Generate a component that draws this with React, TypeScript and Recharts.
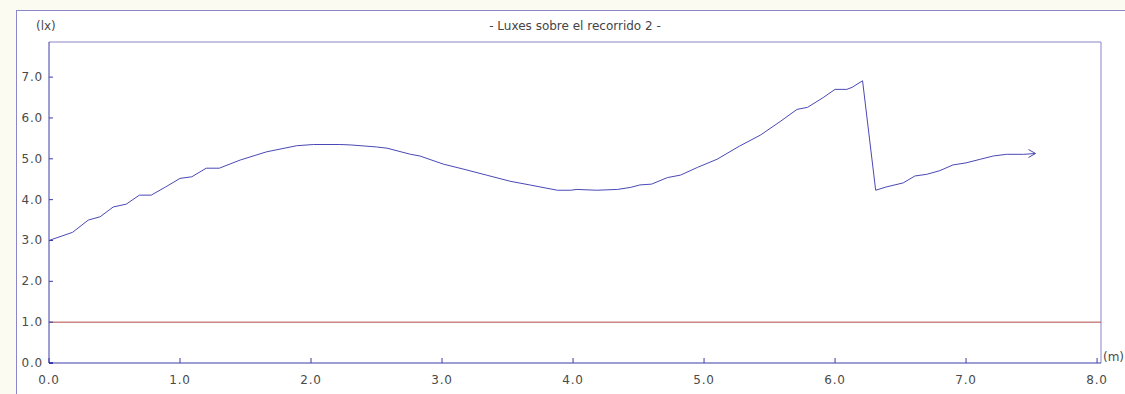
import { LineChart, Line, XAxis, YAxis, ReferenceLine } from "recharts";

const xs = [0, 0.18, 0.3, 0.39, 0.49, 0.59, 0.69, 0.78, 0.89, 1.0, 1.09, 1.2, 1.3, 1.46, 1.66, 1.89, 2.02, 2.22, 2.3, 2.5, 2.58, 2.76, 2.83, 3.01, 3.16, 3.34, 3.52, 3.67, 3.88, 3.98, 4.03, 4.18, 4.34, 4.44, 4.51, 4.6, 4.72, 4.82, 4.95, 5.1, 5.27, 5.43, 5.58, 5.71, 5.79, 5.91, 6.0, 6.09, 6.13, 6.21, 6.31, 6.39, 6.52, 6.61, 6.7, 6.8, 6.9, 7.0, 7.11, 7.21, 7.31, 7.44, 7.53];
const luxes = [3.0, 3.2, 3.5, 3.58, 3.82, 3.89, 4.11, 4.11, 4.31, 4.52, 4.56, 4.77, 4.77, 4.97, 5.17, 5.32, 5.35, 5.35, 5.34, 5.29, 5.26, 5.11, 5.07, 4.87, 4.75, 4.6, 4.45, 4.36, 4.23, 4.23, 4.25, 4.23, 4.25, 4.3, 4.36, 4.38, 4.54, 4.6, 4.79, 4.99, 5.31, 5.58, 5.91, 6.21, 6.26, 6.5, 6.7, 6.7, 6.75, 6.91, 4.23, 4.31, 4.41, 4.58, 4.62, 4.71, 4.85, 4.9, 4.99, 5.07, 5.11, 5.11, 5.13];
const xTicks = [0, 1, 2, 3, 4, 5, 6, 7, 8];
const yTicks = [0, 1, 2, 3, 4, 5, 6, 7];
const minimo = 1.0;

const data = xs.map((x, i) => ({ x, y: luxes[i] }));

const font = "'DejaVu Sans', Verdana, sans-serif";
const textColor = "#4a4a4a";
const axisColor = "#3c3ca8";
const frameColor = "#8a86c8";
const lineColor = "#4a48b4";

const XTick = (props: any) => {
  const { x, y, payload } = props;
  return (
    <g>
      <line x1={x} y1={y} x2={x} y2={y - 5} stroke={axisColor} />
      <text x={x} y={y + 21} textAnchor="middle" fill={textColor} fontSize={12} fontFamily={font} letterSpacing={0.8}>
        {payload.value.toFixed(1)}
      </text>
    </g>
  );
};

const YTick = (props: any) => {
  const { x, y, payload } = props;
  return (
    <g>
      <line x1={x} y1={y} x2={x + 4} y2={y} stroke={axisColor} strokeWidth={payload.value === 0 ? 2 : 1} />
      <text x={x - 6} y={y + 4} textAnchor="end" fill={textColor} fontSize={12} fontFamily={font} letterSpacing={0.8}>
        {payload.value.toFixed(1)}
      </text>
    </g>
  );
};

const ArrowDot = (props: any) => {
  const { cx, cy, index } = props;
  if (index !== data.length - 1) return <g key={index} />;
  return (
    <path key={index} d={`M${cx - 7},${cy - 4} L${cx},${cy} L${cx - 7},${cy + 4}`} fill="none" stroke={lineColor} strokeWidth={1} />
  );
};

export default function App() {
  return (
    <div style={{ position: "absolute", left: 0, top: 0, width: 1125, height: 394, background: "#fbfbf2", overflow: "hidden" }}>
      <div
        style={{
          position: "absolute",
          left: 16,
          top: 10,
          width: 1125,
          height: 400,
          background: "#fff",
          borderTop: `1px solid ${frameColor}`,
          borderLeft: `1px solid ${frameColor}`,
        }}
      />
      <div style={{ position: "absolute", left: 0, top: 0 }}>
        <LineChart width={1125} height={394} data={data} margin={{ top: 42, right: 24, left: 0, bottom: 0 }}>
          <XAxis
            dataKey="x"
            type="number"
            domain={[0, 8.03]}
            ticks={xTicks}
            height={31}
            tickSize={0}
            tickMargin={0}
            tickLine={false}
            tick={<XTick />}
            stroke={axisColor}
            interval={0}
          />
          <YAxis
            type="number"
            domain={[0, 7.86]}
            ticks={yTicks}
            width={49}
            tickSize={0}
            tickMargin={0}
            tickLine={false}
            tick={<YTick />}
            stroke={axisColor}
            interval={0}
            allowDataOverflow
          />
          <ReferenceLine y={7.86} stroke={frameColor} />
          <ReferenceLine x={8.03} stroke={frameColor} />
          <ReferenceLine y={minimo} stroke="#b04848" />
          <Line
            dataKey="y"
            type="linear"
            stroke={lineColor}
            strokeWidth={1}
            dot={<ArrowDot />}
            activeDot={false}
            isAnimationActive={false}
          />
        </LineChart>
      </div>
      <div style={{ position: "absolute", left: 36, top: 19, fontFamily: font, fontSize: 12, color: textColor }}>(lx)</div>
      <div style={{ position: "absolute", left: 0, width: 1150, top: 19, textAlign: "center", fontFamily: font, fontSize: 12, color: "#444" }}>
        - Luxes sobre el recorrido 2 -
      </div>
      <div style={{ position: "absolute", left: 1103, top: 350, fontFamily: font, fontSize: 12, color: textColor }}>(m)</div>
    </div>
  );
}
